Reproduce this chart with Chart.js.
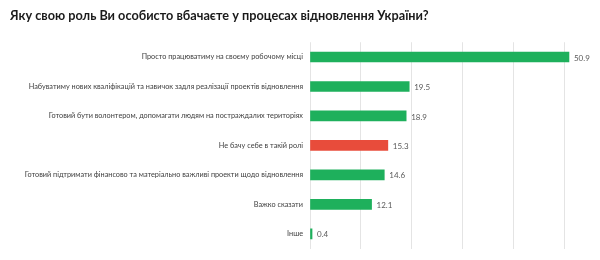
<!DOCTYPE html>
<html>
<head>
<meta charset="utf-8">
<script src="https://cdn.jsdelivr.net/npm/chart.js@4"></script>
<style>
  html, body { margin: 0; padding: 0; background: #fff; }
  #wrap { width: 600px; height: 260px; position: relative; }
</style>
</head>
<body>
<div id="wrap"><canvas id="graficoRoles"></canvas></div>
<script>
const chartTitle = 'Яку свою роль Ви особисто вбачаєте у процесах відновлення України?';
const categories = [
    'Просто працюватиму на своєму робочому місці',
    'Набуватиму нових кваліфікацій та навичок задля реалізації проектів відновлення',
    'Готовий бути волонтером, допомагати людям на постраждалих територіях',
    'Не бачу себе в такій ролі',
    'Готовий підтримати фінансово та матеріально важливі проекти щодо відновлення',
    'Важко сказати',
    'Інше'
];
const values = [50.9, 19.5, 18.9, 15.3, 14.6, 12.1, 0.4];
const highlighted = ['Не бачу себе в такій ролі'];

const green = '#1eb05c';
const red = '#e84c3b';

// value labels drawn just after the end of every bar
const valueLabels = {
    id: 'valueLabels',
    afterDatasetsDraw(chart) {
        const ctx = chart.ctx;
        const meta = chart.getDatasetMeta(0);
        ctx.save();
        ctx.font = '8px Lato, "Open Sans", sans-serif';
        ctx.fillStyle = '#595959';
        ctx.textAlign = 'left';
        ctx.textBaseline = 'middle';
        meta.data.forEach((bar, i) => {
            ctx.fillText(values[i].toFixed(1), bar.x + 5, bar.y + 1);
        });
        ctx.restore();
    }
};

document.addEventListener('DOMContentLoaded', () => {
    const ctx = document.getElementById('graficoRoles').getContext('2d');

    new Chart(ctx, {
        type: 'bar',
        data: {
            labels: categories,
            datasets: [{
                data: values,
                backgroundColor: categories.map(c => highlighted.includes(c) ? red : green),
                barThickness: 10
            }]
        },
        options: {
            indexAxis: 'y',
            responsive: true,
            maintainAspectRatio: false,
            animation: false,
            layout: { padding: { left: 10, right: 0, top: 0, bottom: 7 } },
            scales: {
                x: {
                    min: 0,
                    max: 57,
                    afterBuildTicks: (scale) => {
                        scale.ticks = [0, 10, 20, 30, 40, 50].map(v => ({ value: v }));
                    },
                    ticks: { display: false },
                    border: { display: false },
                    grid: { color: '#e4e4e4', drawTicks: false }
                },
                y: {
                    border: { display: false },
                    grid: { display: false, drawTicks: false },
                    afterFit: (scale) => { scale.width = 300; },
                    ticks: {
                        color: '#404040',
                        padding: 7,
                        autoSkip: false,
                        font: { family: 'Lato, "Open Sans", sans-serif', size: 7.3 }
                    }
                }
            },
            plugins: {
                legend: { display: false },
                tooltip: { enabled: false },
                title: {
                    display: true,
                    text: chartTitle,
                    align: 'start',
                    color: '#1a1a1a',
                    padding: { top: 8, bottom: 19 },
                    font: { family: 'Lato, "Open Sans", sans-serif', size: 12.7, weight: 'bold' }
                }
            }
        },
        plugins: [valueLabels]
    });
});
</script>
</body>
</html>
